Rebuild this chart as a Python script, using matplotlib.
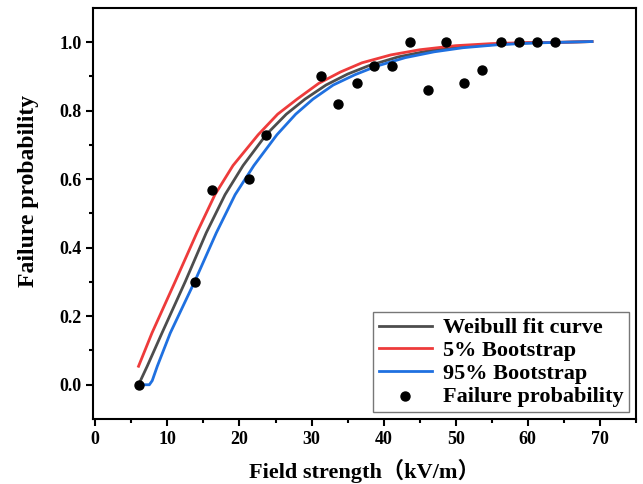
import matplotlib
matplotlib.use("Agg")
import matplotlib.pyplot as plt

# measured failure probability
field = [6.0, 13.8, 16.2, 21.3, 23.7, 31.3, 33.7, 36.3, 38.7, 41.2,
         43.7, 46.2, 48.7, 51.2, 53.7, 56.3, 58.8, 61.3, 63.8]
prob = [0.0, 0.30, 0.57, 0.60, 0.73, 0.90, 0.82, 0.88, 0.93, 0.93,
        1.0, 0.86, 1.0, 0.88, 0.92, 1.0, 1.0, 1.0, 1.0]

# curves
fit_x = [6.0, 7.2, 9.25, 12.5, 15.4, 18.0, 20.5, 23.7, 26.5, 29.1, 32.0,
         35.0, 38.0, 42.0, 46.0, 50.0, 55.0, 60.0, 65.0, 68.9]
fit_y = [0.0, 0.054, 0.151, 0.302, 0.444, 0.555, 0.640, 0.730, 0.790, 0.834,
         0.875, 0.907, 0.932, 0.957, 0.974, 0.985, 0.993, 0.998, 1.0, 1.002]

lo_x = [6.0, 7.86, 11.1, 14.1, 16.6, 19.1, 22.6, 25.3, 28.0, 31.0, 34.0,
        37.0, 41.0, 45.0, 50.0, 55.0, 60.0, 65.0, 68.9]
lo_y = [0.054, 0.151, 0.302, 0.444, 0.555, 0.640, 0.730, 0.790, 0.834, 0.880,
        0.913, 0.940, 0.963, 0.978, 0.990, 0.996, 0.999, 1.0, 1.002]

hi_x = [6.0, 7.5, 7.9, 8.6, 10.4, 13.8, 16.8, 19.4, 22.0, 25.2, 27.8, 30.2,
        33.0, 36.0, 39.0, 43.0, 47.0, 51.0, 56.0, 61.0, 65.0, 68.9]
hi_y = [0.0, 0.0, 0.012, 0.054, 0.151, 0.302, 0.444, 0.555, 0.640, 0.730,
        0.790, 0.834, 0.875, 0.905, 0.930, 0.955, 0.972, 0.984, 0.993, 0.998,
        1.0, 1.002]

plt.rcParams["font.family"] = ["Liberation Serif", "Noto Sans CJK SC"]
plt.rcParams["font.weight"] = "bold"

fig = plt.figure(figsize=(6.43, 4.84), dpi=100)
ax = fig.add_axes([0.1454, 0.1343, 0.8436, 0.8492])

ax.plot(fit_x, fit_y, color="#4d4d4d", lw=2.0, label="Weibull fit curve")
ax.plot(lo_x, lo_y, color="#ee3b3b", lw=2.0, label="5% Bootstrap")
ax.plot(hi_x, hi_y, color="#1f70e0", lw=2.0, label="95% Bootstrap")
ax.scatter(field, prob, s=42, color="black", zorder=5, label="Failure probability")

ax.set_xlim(-0.25, 75)
ax.set_ylim(-0.1, 1.1)
ax.set_xticks(range(0, 71, 10))
ax.set_xticks(range(5, 76, 10), minor=True)
ax.set_yticks([0.0, 0.2, 0.4, 0.6, 0.8, 1.0])
ax.set_yticks([0.1, 0.3, 0.5, 0.7, 0.9], minor=True)
ax.set_yticklabels(["0.0", "0.2", "0.4", "0.6", "0.8", "1.0"])
ax.tick_params(which="major", direction="out", length=5, width=1.5,
               labelsize=13, top=False, right=False)
ax.tick_params(which="minor", direction="out", length=3, width=1.5,
               top=False, right=False)
for lab in ax.get_xticklabels() + ax.get_yticklabels():
    lab.set_fontweight("bold")
for sp in ax.spines.values():
    sp.set_linewidth(1.5)

ax.set_xlabel("Field strength（kV/m）", fontsize=16, fontweight="bold", labelpad=8)
ax.set_ylabel("Failure probability", fontsize=17, fontweight="bold")
ax.yaxis.set_label_coords(-0.100, 0.555)

leg = ax.legend(loc="lower right", fontsize=16, frameon=True, fancybox=False,
                edgecolor="#555555", handlelength=2.4, borderaxespad=0.3,
                handletextpad=0.5, labelspacing=0.1, borderpad=0.25)
leg.get_frame().set_linewidth(1.0)
for t in leg.get_texts():
    t.set_fontweight("bold")

fig.savefig("out.png", dpi=100)
